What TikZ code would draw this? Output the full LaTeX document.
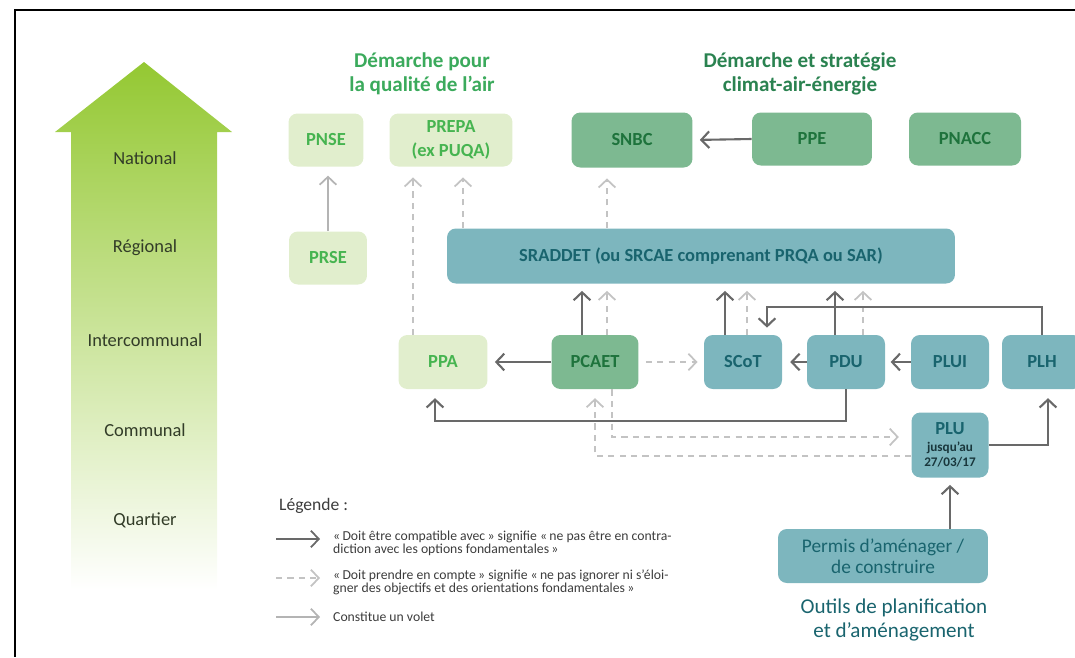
\documentclass[tikz,border=0pt]{standalone}
\usepackage{fontspec}
\setmainfont{Carlito}
\usetikzlibrary{arrows.meta, calc}

\definecolor{airfill}{RGB}{225,238,205}
\definecolor{airtext}{RGB}{70,180,80}
\definecolor{airtitle}{RGB}{59,170,92}
\definecolor{climfill}{RGB}{125,185,145}
\definecolor{climtext}{RGB}{30,115,60}
\definecolor{climtitle}{RGB}{42,130,80}
\definecolor{urbfill}{RGB}{125,182,190}
\definecolor{urbtext}{RGB}{25,100,110}
\definecolor{urbdark}{RGB}{25,55,60}
\definecolor{tiertext}{RGB}{50,60,40}
\definecolor{arrowtop}{RGB}{148,200,50}
\definecolor{arrowmid}{RGB}{200,228,150}
\definecolor{compatgray}{RGB}{105,105,105}
\definecolor{considergray}{RGB}{195,195,195}
\definecolor{voletgray}{RGB}{180,180,180}
\definecolor{legendtext}{RGB}{60,60,60}

\tikzset {
    >={Straight Barb[length=4.5pt,width=9.5pt]},
    rbox/.style={rounded corners=5pt, inner sep=2pt, align=center,
        font=\bfseries\fontsize{10.5}{12}\selectfont},
    airbox/.style={rbox, fill=airfill, text=airtext},
    climbox/.style={rbox, fill=climfill, text=climtext},
    urbbox/.style={rbox, fill=urbfill, text=urbtext},
    compat/.style={->, draw=compatgray, line width=1.2pt},
    consider/.style={->, draw=considergray, line width=1pt, dash pattern=on 3.5pt off 3pt},
    volet/.style={->, draw=voletgray, line width=1pt},
    tier/.style={font=\fontsize{10.5}{12}\selectfont, text=tiertext},
    heading/.style={align=center, font=\bfseries\fontsize{12}{13.6}\selectfont},
    legtext/.style={anchor=west, align=left, text=legendtext,
        font=\fontsize{7.8}{6}\selectfont}
}

\begin{document}
\begin{tikzpicture}[x=0.02cm, y=-0.02cm]
    \useasboundingbox (0,0) rectangle (1075,657);
    \draw[line width=1.4pt] (1075,10) -- (15,10) -- (15,657);

    % echelle territoriale
    \shade[top color=arrowtop, middle color=arrowmid, bottom color=white]
        (71,590) -- (71,132) -- (55,132) -- (144,62) -- (232,132) -- (217,132) -- (217,590) -- cycle;
    \node[tier] (nat) at (145,158) {National};
    \node[tier] (reg) at (145,248) {Régional};
    \node[tier] (inter) at (145,340) {Intercommunal};
    \node[tier] (com) at (145,430) {Communal};
    \node[tier] (quart) at (145,520) {Quartier};

    % titres
    \node[heading, text=airtitle] (tair) at (422,74) {Démarche pour\\la qualité de l’air};
    \node[heading, text=climtitle] (tclim) at (800,74) {Démarche et stratégie\\climat-air-énergie};
    \node[align=center, text=urbtext, font=\fontsize{12}{13.6}\selectfont] (turb) at (894,620)
        {Outils de planification\\et d’aménagement};

    % documents
    \node[airbox, minimum width=1.5cm, minimum height=1.06cm] (PNSE) at (326,140) {PNSE};
    \node[airbox, minimum width=2.46cm, minimum height=1.06cm] (PREPA) at (451,140) {PREPA\\[1.5pt](ex PUQA)};
    \node[airbox, minimum width=1.56cm, minimum height=1.06cm] (PRSE) at (328,258) {PRSE};
    \node[climbox, minimum width=2.42cm, minimum height=1.1cm] (SNBC) at (632,140) {SNBC};
    \node[climbox, minimum width=2.4cm, minimum height=1.06cm] (PPE) at (812,139) {PPE};
    \node[climbox, minimum width=2.24cm, minimum height=1.06cm] (PNACC) at (965,139) {PNACC};
    \node[urbbox, minimum width=10.16cm, minimum height=1.1cm] (SRADDET) at (701,256)
        {SRADDET (ou SRCAE comprenant PRQA ou SAR)};
    \node[airbox, minimum width=1.78cm, minimum height=1.08cm] (PPA) at (443,362) {PPA};
    \node[climbox, minimum width=1.74cm, minimum height=1.08cm] (PCAET) at (595,362) {PCAET};
    \node[urbbox, minimum width=1.56cm, minimum height=1.08cm] (SCoT) at (743,362) {SCoT};
    \node[urbbox, minimum width=1.56cm, minimum height=1.08cm] (PDU) at (846,362) {PDU};
    \node[urbbox, minimum width=1.56cm, minimum height=1.08cm] (PLUI) at (950,362) {PLUI};
    \node[urbbox, minimum width=1.6cm, minimum height=1.08cm] (PLH) at (1042,362) {PLH};
    \node[urbbox, minimum width=1.54cm, minimum height=1.3cm,
        font=\bfseries\fontsize{7.5}{8.5}\selectfont] (PLU) at (950,445)
        {{\fontsize{10.5}{12}\selectfont PLU}\\[1pt]{\color{urbdark}jusqu’au}\\{\color{urbdark}27/03/17}};
    \node[urbbox, minimum width=4.2cm, minimum height=1.08cm,
        font=\fontsize{11}{12}\selectfont] (Permis) at (883,556) {Permis d’aménager /\\de construire};

    % liens nationaux et regionaux
    \draw[volet, shorten >=5pt] (PRSE.north) -- (PRSE.north |- PNSE.south);
    \draw[compat, shorten >=4pt] (PPE.west) -- (SNBC.east);
    \draw[consider, shorten >=6pt] ($(PPA.north)+(-30,0)$) -- ($(PPA.north |- PREPA.south)+(-30,0)$);
    \draw[consider, shorten >=6pt] ($(SRADDET.north -| PREPA.south)+(12,0)$) -- ($(PREPA.south)+(12,0)$);
    \draw[consider, shorten >=6pt] ($(SRADDET.north -| SNBC.south)+(-25,0)$) -- ($(SNBC.south)+(-25,0)$);

    % vers le SRADDET
    \draw[compat, shorten >=4pt] ($(PCAET.north)+(-13,0)$) -- ($(PCAET.north |- SRADDET.south)+(-13,0)$);
    \draw[consider, shorten >=4pt] ($(PCAET.north)+(12,0)$) -- ($(PCAET.north |- SRADDET.south)+(12,0)$);
    \draw[compat, shorten >=4pt] ($(SCoT.north)+(-18,0)$) -- ($(SCoT.north |- SRADDET.south)+(-18,0)$);
    \draw[consider, shorten >=4pt] ($(SCoT.north)+(4,0)$) -- ($(SCoT.north |- SRADDET.south)+(4,0)$);
    \draw[compat, shorten >=4pt] ($(PDU.north)+(-11,0)$) -- ($(PDU.north |- SRADDET.south)+(-11,0)$);
    \draw[consider, shorten >=4pt] ($(PDU.north)+(17,0)$) -- ($(PDU.north |- SRADDET.south)+(17,0)$);

    % liens intercommunaux
    \draw[compat, shorten >=4pt] (PCAET.west) -- (PPA.east);
    \draw[consider, shorten <=4pt, shorten >=3.5pt] (PCAET.east) -- (SCoT.west);
    \draw[compat, shorten >=4.5pt] (PDU.west) -- (SCoT.east);
    \draw[compat, shorten >=3pt] (PLUI.west) -- (PDU.east);
    \draw[compat, shorten >=4pt] (PLH.north) -- ++(0,-28) -| ($(SCoT.north)+(24,0)$);
    \draw[compat, shorten >=5pt] (PDU.south) -- ++(0,32) -| ($(PPA.south)+(-8,0)$);

    % liens communaux
    \draw[consider, shorten >=7pt] ($(PCAET.south)+(17,0)$) |- ($(PLU.west)+(0,-8)$);
    \draw[consider, shorten >=5pt] ($(PLU.west)+(0,11)$) -| (PCAET.south);
    \draw[compat, shorten >=5pt] (PLU.east) -| ($(PLH.south)+(6,0)$);
    \draw[compat, shorten >=4pt] (Permis.north -| PLU.south) -- (PLU.south);

    % legende
    \node[anchor=west, text=legendtext, font=\fontsize{10}{12}\selectfont] (leg) at (273,506) {Légende :};
    \coordinate (c1s) at (276,539);
    \coordinate (c1e) at (320,539);
    \coordinate (c2s) at (276,578);
    \coordinate (c2e) at (320,578);
    \coordinate (c3s) at (276,617);
    \coordinate (c3e) at (320,617);
    \draw[compat, line width=1pt] (c1s) -- (c1e);
    \draw[consider] (c2s) -- (c2e);
    \draw[volet] (c3s) -- (c3e);
    \node[legtext] (l1) at (327,543.5)
        {«\,Doit être compatible avec\,» signifie «\,ne pas être en contra-\\diction avec les options fondamentales\,»};
    \node[legtext] (l2) at (327,582.5)
        {«\,Doit prendre en compte\,» signifie «\,ne pas ignorer ni s’éloi-\\gner des objectifs et des orientations fondamentales\,»};
    \node[legtext] (l3) at (327,617) {Constitue un volet};
\end{tikzpicture}
\end{document}
